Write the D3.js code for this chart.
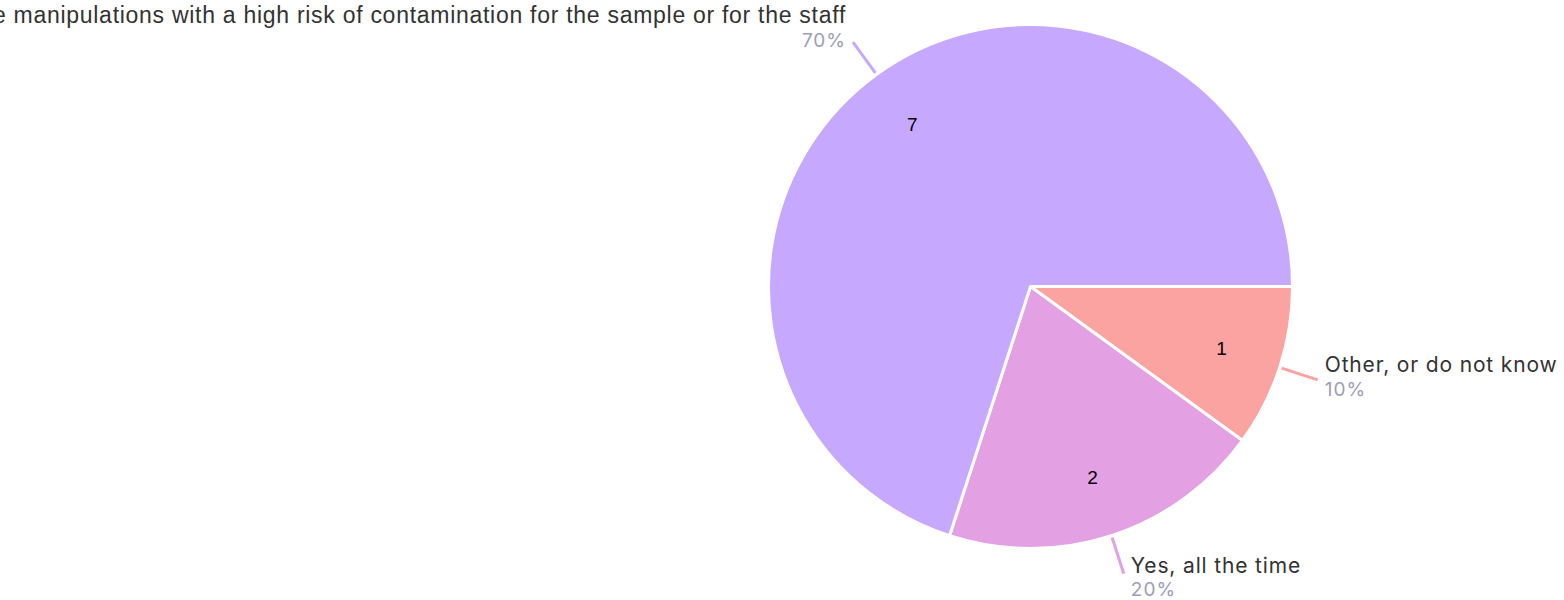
<!DOCTYPE html>
<html>
<head>
<meta charset="utf-8">
<script src="https://cdn.jsdelivr.net/npm/d3@7"></script>
<style>
  body { margin: 0; background: #fff; }
  svg { display: block; }
</style>
</head>
<body>
<script>
// data
var categories = ["Other, or do not know", "Yes, all the time",
  "Yes, only for the manipulations with a high risk of contamination for the sample or for the staff"];
var counts = [1, 2, 7];
var colors = ["#fba3a0", "#e3a0e3", "#c6a8fe"];

var w = 1564, h = 600;
var cx = 1030.5, cy = 286.5, r = 262;

var svg = d3.select("body").append("svg")
  .attr("width", w).attr("height", h);

var total = d3.sum(counts);
var rows = categories.map(function(c, i) { return {name: c, value: counts[i], color: colors[i]}; });

var pie = d3.pie().value(function(d) { return d.value; }).sort(null)
  .startAngle(Math.PI / 2).endAngle(Math.PI / 2 + 2 * Math.PI);
var arcs = pie(rows);

var arc = d3.arc().innerRadius(0).outerRadius(r);
var labelArc = d3.arc().innerRadius(201).outerRadius(201);

var g = svg.append("g").attr("transform", "translate(" + cx + "," + cy + ")");

g.selectAll("path.slice").data(arcs).enter().append("path")
  .attr("class", "slice")
  .attr("d", arc)
  .style("fill", function(d) { return d.data.color; })
  .style("stroke", "#fff").style("stroke-width", 3).style("stroke-linejoin", "round");

// count inside
g.selectAll("text.count").data(arcs).enter().append("text")
  .attr("class", "count")
  .attr("x", function(d) { return labelArc.centroid(d)[0]; })
  .attr("y", function(d) { return labelArc.centroid(d)[1]; })
  .attr("dy", "0.35em")
  .attr("text-anchor", "middle")
  .style("font-family", "'Liberation Sans', Arial, sans-serif").style("font-size", "19px").style("fill", "#000")
  .text(function(d) { return d.data.value; });

// leader lines + outer labels
var mid = function(d) { return (d.startAngle + d.endAngle) / 2; };
var pt = function(a, rr) { return [Math.sin(a) * rr, -Math.cos(a) * rr]; };

arcs.forEach(function(d) {
  var a = mid(d);
  var p0 = pt(a, r + 2), p1 = pt(a, r + 40);
  var right = Math.sin(a) > 0;
  g.append("line")
    .attr("x1", p0[0]).attr("y1", p0[1]).attr("x2", p1[0]).attr("y2", p1[1])
    .style("stroke", d.data.color).style("stroke-width", 3);

  var tx = p1[0] + (right ? 7 : -7);
  var base = p1[1] - 10.7 - 10.2 * Math.cos(a);
  var anchor = right ? "start" : "end";
  var long = d.data.name.length > 40;
  g.append("text")
    .attr("x", tx).attr("y", base)
    .attr("text-anchor", anchor)
    .style("font-family", long ? "'Liberation Sans', Arial, sans-serif" : "Inter, sans-serif")
    .style("font-size", long ? "23px" : "21px")
    .style("letter-spacing", long ? "0.72px" : "0.85px")
    .style("fill", "#333")
    .text(d.data.name);
  g.append("text")
    .attr("x", tx).attr("y", base + 23.5)
    .attr("text-anchor", anchor)
    .style("font-family", "Inter, sans-serif")
    .style("font-size", "19px").style("letter-spacing", "1px").style("fill", "#9d9db8")
    .text(Math.round(d.data.value / total * 100) + "%");
});
</script>
</body>
</html>
